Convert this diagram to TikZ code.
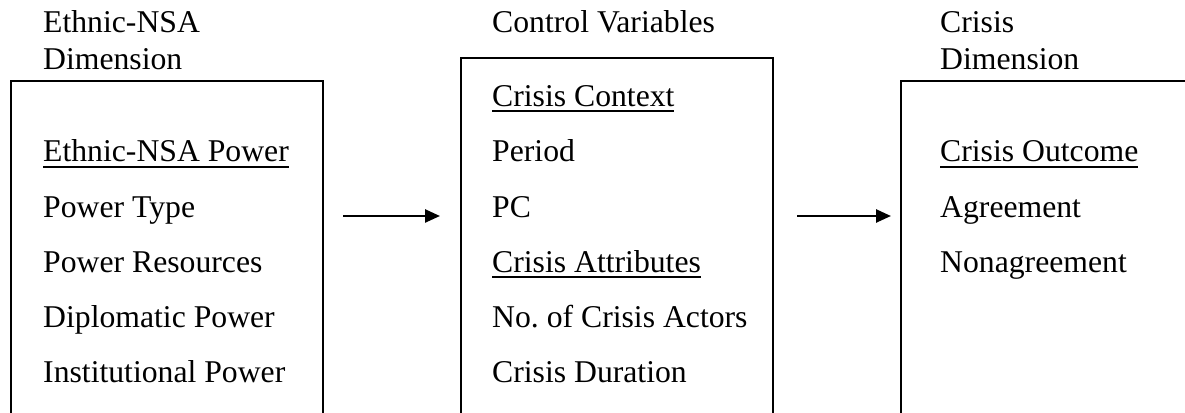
\documentclass[tikz,border=0pt]{standalone}
\usepackage{fontspec}
\setmainfont{Liberation Serif}
\usetikzlibrary{positioning, arrows.meta}
\newcommand{\ulined}[1]{\setbox0\hbox{#1}\rlap{\rule[-6pt]{\wd0}{2pt}}\box0}

\begin{document}
\begin{tikzpicture}[x=1pt,y=1pt,>={Triangle[length=15pt,width=13pt]},
  txt/.style={anchor=base west,inner sep=0pt,font=\fontsize{31.7}{38}\selectfont},
  frame/.style={draw,line width=2pt,rectangle,anchor=north west,inner sep=0pt}]
  \useasboundingbox (0,0) rectangle (1185,412);
  \clip (0,0) rectangle (1185,412);
  % boxes
  \node[frame,minimum width=312pt,minimum height=380pt] (lbox) at (10,332){};
  \node[frame,minimum width=312pt,minimum height=400pt] (mbox) at (460,355){};
  \node[frame,minimum width=320pt,minimum height=380pt] (rbox) at (900,332){};
  % left
  \node[txt] (lhead1) at (43,379){Ethnic-NSA};
  \node[txt] (lhead2) at (43,342){Dimension};
  \node[txt] (l1) at (43,250.2){\ulined{Ethnic-NSA Power}};
  \node[txt] (l2) at (43,194.9){Power Type};
  \node[txt] (l3) at (43,139.6){Power Resources};
  \node[txt] (l4) at (43,84.3){Diplomatic Power};
  \node[txt] (l5) at (43,29){Institutional Power};
  % middle
  \node[txt] (mhead) at (492,379){Control Variables};
  \node[txt] (m1) at (492,305.5){\ulined{Crisis Context}};
  \node[txt] (m2) at (492,250.2){Period};
  \node[txt] (m3) at (492,194.9){PC};
  \node[txt] (m4) at (492,139.6){\ulined{Crisis Attributes}};
  \node[txt] (m5) at (492,84.3){No.\ of Crisis Actors};
  \node[txt] (m6) at (492,29){Crisis Duration};
  % right
  \node[txt] (rhead1) at (940,379){Crisis};
  \node[txt] (rhead2) at (940,342){Dimension};
  \node[txt] (r1) at (940,250.2){\ulined{Crisis Outcome}};
  \node[txt] (r2) at (940,194.9){Agreement};
  \node[txt] (r3) at (940,139.6){Nonagreement};
  % arrows
  \coordinate (a1) at (343,196);
  \coordinate (a2) at (440,196);
  \coordinate (a3) at (797,196);
  \coordinate (a4) at (891,196);
  \draw[->,line width=2.5pt](a1)--(a2);
  \draw[->,line width=2.5pt](a3)--(a4);
\end{tikzpicture}
\end{document}
